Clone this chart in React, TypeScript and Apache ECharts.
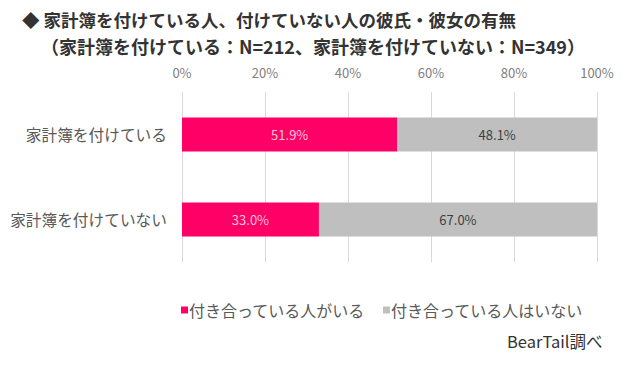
import React, { useEffect, useRef } from "react";
import * as echarts from "echarts";

const categories = ["家計簿を付けている", "家計簿を付けていない"];
const seriesNames = ["付き合っている人がいる", "付き合っている人はいない"];
const withPartner = [51.9, 33.0];
const withoutPartner = [48.1, 67.0];
const xTicks = [0, 20, 40, 60, 80, 100];

const titleLine1 = "◆ 家計簿を付けている人、付けていない人の彼氏・彼女の有無";
const titleLine2 = "（家計簿を付けている：N=212、家計簿を付けていない：N=349）";
const sourceText = "BearTail調べ";

const FONT = '"Noto Sans CJK JP", "Noto Sans", sans-serif';

export default function App() {
  const ref = useRef<HTMLDivElement>(null);
  useEffect(() => {
    if (!ref.current) return;
    const chart = echarts.init(ref.current, undefined, { renderer: "svg" });
    chart.setOption({
      animation: false,
      backgroundColor: "#ffffff",
      textStyle: { fontFamily: FONT },
      grid: { left: 182, right: 43, top: 92, bottom: 125, containLabel: false },
      xAxis: {
        type: "value",
        position: "top",
        min: xTicks[0],
        max: xTicks[xTicks.length - 1],
        interval: 20,
        axisLine: { show: false },
        axisTick: { show: false },
        axisLabel: {
          formatter: "{value}%",
          color: "#808080",
          fontSize: 13,
          margin: 13,
          fontFamily: FONT,
        },
        splitLine: { show: true, lineStyle: { color: "#D9D9D9", width: 1 } },
      },
      yAxis: {
        type: "category",
        inverse: true,
        data: categories,
        axisLine: { show: false },
        axisTick: { show: false },
        axisLabel: { color: "#595959", fontSize: 15.7, margin: 15, fontFamily: FONT },
      },
      legend: {
        left: 176,
        top: 297,
        itemWidth: 7,
        itemHeight: 7,
        itemGap: 18,
        icon: "rect",
        textStyle: { color: "#595959", fontSize: 16, fontFamily: FONT, padding: [0, 0, 0, -4] },
        data: seriesNames,
      },
      series: [
        {
          name: seriesNames[0],
          type: "bar",
          stack: "total",
          barWidth: "40%",
          data: withPartner,
          itemStyle: { color: "#FF0066" },
          label: {
            show: true,
            position: "inside",
            color: "#F9C6DA",
            fontSize: 13,
            fontFamily: FONT,
            formatter: (p: any) => p.value.toFixed(1) + "%",
          },
        },
        {
          name: seriesNames[1],
          type: "bar",
          stack: "total",
          barWidth: "40%",
          data: withoutPartner,
          itemStyle: { color: "#BFBFBF" },
          label: {
            show: true,
            position: "inside",
            color: "#404040",
            fontSize: 13,
            fontFamily: FONT,
            formatter: (p: any) => p.value.toFixed(1) + "%",
          },
        },
      ],
      graphic: [
        {
          type: "text",
          left: 22,
          top: 10,
          style: {
            text: titleLine1,
            fill: "#333333",
            font: `bold 17.5px ${FONT}`,
            lineHeight: 18,
          },
        },
        {
          type: "text",
          left: 41,
          top: 37,
          style: {
            text: titleLine2,
            fill: "#333333",
            font: `bold 18px ${FONT}`,
            lineHeight: 18,
          },
        },
        {
          type: "text",
          left: 507,
          top: 333,
          style: { text: sourceText, fill: "#333333", font: `16.5px ${FONT}` },
        },
      ],
    });
    return () => chart.dispose();
  }, []);
  return (
    <div
      ref={ref}
      style={{ position: "fixed", left: 0, top: 0, width: 640, height: 387 }}
    />
  );
}
